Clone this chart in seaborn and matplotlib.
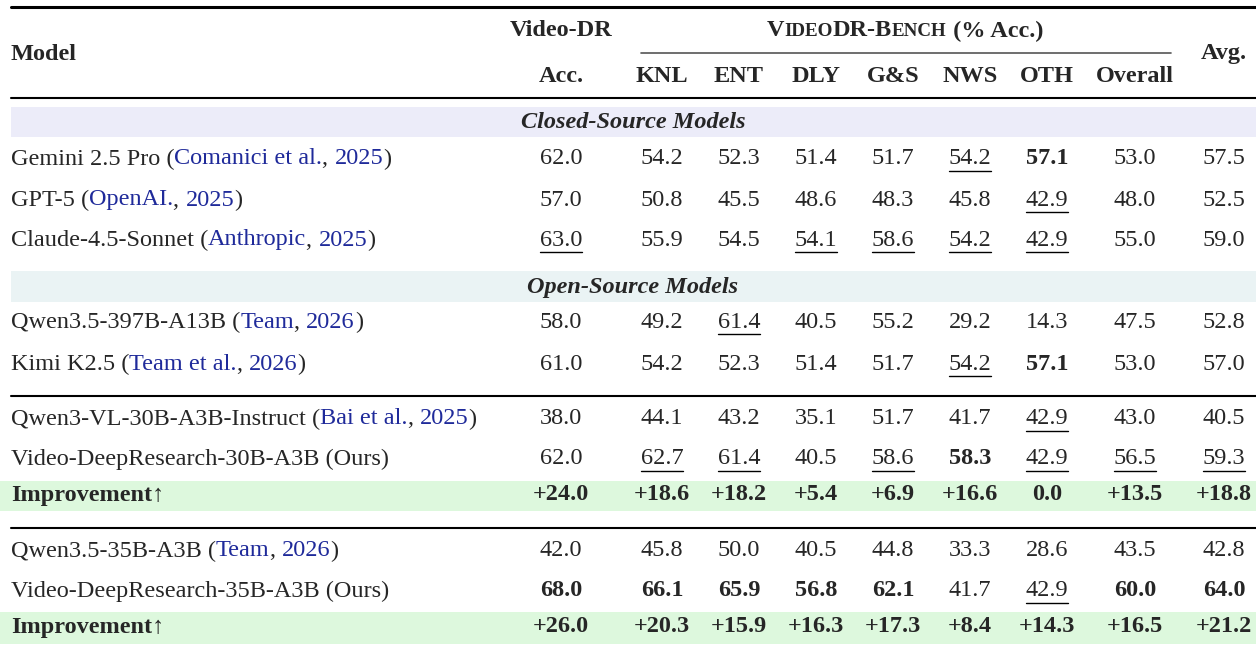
import matplotlib
matplotlib.use("Agg")
import matplotlib.pyplot as plt
import seaborn as sns

sns.set_theme(style="white")
plt.rcParams["font.family"] = ["Liberation Serif", "DejaVu Serif"]

columns = ["Acc.", "KNL", "ENT", "DLY", "G&S", "NWS", "OTH", "Overall", "Avg."]
col_x = [561, 662, 739, 816, 893, 970, 1047, 1135, 1224]

models = ["Gemini 2.5 Pro", "GPT-5", "Claude-4.5-Sonnet",
          "Qwen3.5-397B-A13B", "Kimi K2.5",
          "Qwen3-VL-30B-A3B-Instruct", "Video-DeepResearch-30B-A3B (Ours)", "Improvement\u2191",
          "Qwen3.5-35B-A3B", "Video-DeepResearch-35B-A3B (Ours)", "Improvement\u2191"]
citations = ["Comanici et al., 2025", "OpenAI., 2025", "Anthropic, 2025",
             "Team, 2026", "Team et al., 2026",
             "Bai et al., 2025", None, None,
             "Team, 2026", None, None]
values = [
    ["62.0", "54.2", "52.3", "51.4", "51.7", "54.2", "57.1", "53.0", "57.5"],
    ["57.0", "50.8", "45.5", "48.6", "48.3", "45.8", "42.9", "48.0", "52.5"],
    ["63.0", "55.9", "54.5", "54.1", "58.6", "54.2", "42.9", "55.0", "59.0"],
    ["58.0", "49.2", "61.4", "40.5", "55.2", "29.2", "14.3", "47.5", "52.8"],
    ["61.0", "54.2", "52.3", "51.4", "51.7", "54.2", "57.1", "53.0", "57.0"],
    ["38.0", "44.1", "43.2", "35.1", "51.7", "41.7", "42.9", "43.0", "40.5"],
    ["62.0", "62.7", "61.4", "40.5", "58.6", "58.3", "42.9", "56.5", "59.3"],
    ["+24.0", "+18.6", "+18.2", "+5.4", "+6.9", "+16.6", "0.0", "+13.5", "+18.8"],
    ["42.0", "45.8", "50.0", "40.5", "44.8", "33.3", "28.6", "43.5", "42.8"],
    ["68.0", "66.1", "65.9", "56.8", "62.1", "41.7", "42.9", "60.0", "64.0"],
    ["+26.0", "+20.3", "+15.9", "+16.3", "+17.3", "+8.4", "+14.3", "+16.5", "+21.2"],
]
# emphasis: b = bold, u = underline, "" = plain
emphasis = [
    ["", "", "", "", "", "u", "b", "", ""],
    ["", "", "", "", "", "", "u", "", ""],
    ["u", "", "", "u", "u", "u", "u", "", ""],
    ["", "", "u", "", "", "", "", "", ""],
    ["", "", "", "", "", "u", "b", "", ""],
    ["", "", "", "", "", "", "u", "", ""],
    ["", "u", "u", "", "u", "b", "u", "u", "u"],
    ["b"] * 9,
    ["", "", "", "", "", "", "", "", ""],
    ["b", "b", "b", "b", "b", "", "u", "b", "b"],
    ["b"] * 9,
]
row_y = [159, 200, 240, 322, 364, 419, 459, 495, 551, 591, 627]

FS = 17.5
BLUE = "#1f2a9a"

fig = plt.figure(figsize=(12.56, 6.48), dpi=100)
ax = fig.add_axes([0, 0, 1, 1])
ax.set_xlim(0, 1256)
ax.set_ylim(648, 0)
ax.axis("off")
fig.canvas.draw()
renderer = fig.canvas.get_renderer()


def text_width(t):
    return t.get_window_extent(renderer).width


def pieces(x, y, parts, ha="left"):
    # parts: list of (string, dict of kwargs), laid out one after another
    objs = []
    for s, kw in parts:
        kw = dict(kw)
        t = ax.text(0, y, s, va="center", ha="left", fontsize=kw.pop("fontsize", FS), **kw)
        objs.append(t)
    total = sum(text_width(t) for t in objs)
    cur = x - total / 2 if ha == "center" else x
    for t in objs:
        t.set_x(cur)
        cur += text_width(t)
    return objs


# bands
for x0, y0, y1, col in [(11, 107, 137, "#ececf9"), (11, 271, 302, "#eaf3f4"),
                        (0, 481, 511, "#ddf8dd"), (0, 612, 644, "#ddf8dd")]:
    ax.fill_between([x0, 1256], y0, y1, color=col, lw=0, zorder=0)

# rules
ax.plot([11, 1256], [7, 7], color="black", lw=2.2)
ax.plot([11, 1256], [98, 98], color="black", lw=1.5)
ax.plot([641, 1171], [53, 53], color="#555555", lw=1.2)
ax.plot([11, 1256], [396, 396], color="black", lw=1.5)
ax.plot([11, 1256], [528, 528], color="black", lw=1.5)

# header
ax.text(11, 54, "Model", fontsize=FS, fontweight="bold", va="center")
ax.text(561, 31, "Video-DR", fontsize=FS, fontweight="bold", va="center", ha="center")
small = FS * 0.78
pieces(905, 31, [("V", dict(fontweight="bold")), ("IDEO", dict(fontweight="bold", fontsize=small)),
                 ("DR-B", dict(fontweight="bold")), ("ENCH", dict(fontweight="bold", fontsize=small)),
                 (" (% Acc.)", dict(fontweight="bold"))], ha="center")
for c, x in zip(columns[:-1], col_x[:-1]):
    ax.text(x, 76, c, fontsize=FS, fontweight="bold", va="center", ha="center")
ax.text(col_x[-1], 54, columns[-1], fontsize=FS, fontweight="bold", va="center", ha="center")

ax.text(633, 122, "Closed-Source Models", fontsize=FS, fontweight="bold", style="italic",
        va="center", ha="center")
ax.text(633, 287, "Open-Source Models", fontsize=FS, fontweight="bold", style="italic",
        va="center", ha="center")

for name, cite, vals, emph, y in zip(models, citations, values, emphasis, row_y):
    bold_row = name.startswith("Improvement")
    if cite:
        pieces(11, y, [(name + " (", {}), (cite[:-6], dict(color=BLUE)), (", ", {}),
                       (cite[-4:], dict(color=BLUE)), (")", {})])
    else:
        ax.text(11, y, name, fontsize=FS, va="center",
                fontweight="bold" if bold_row else "normal")
    for v, e, x in zip(vals, emph, col_x):
        t = ax.text(x, y, v, fontsize=FS, va="center", ha="center",
                    fontweight="bold" if "b" in e else "normal")
        if "u" in e:
            w = text_width(t)
            ax.plot([x - w / 2, x + w / 2], [y + 12, y + 12], color="black", lw=1.0)

fig.savefig("out.png", dpi=100)
